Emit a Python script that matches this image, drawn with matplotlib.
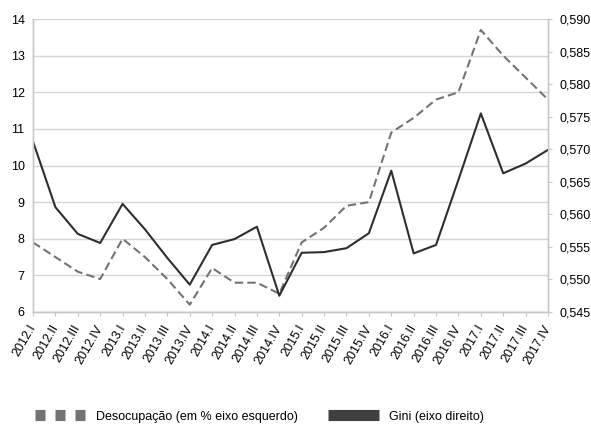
import numpy as np
import matplotlib
matplotlib.use("Agg")
import matplotlib.pyplot as plt
from matplotlib.lines import Line2D
from matplotlib.ticker import FuncFormatter, MultipleLocator
from matplotlib.transforms import ScaledTranslation

plt.rcParams["font.family"] = ["Liberation Sans", "DejaVu Sans"]

# ── Data ─────────────────────────────────────────────────────────────────────
quarters = [
    "2012.I", "2012.II", "2012.III", "2012.IV",
    "2013.I", "2013.II", "2013.III", "2013.IV",
    "2014.I", "2014.II", "2014.III", "2014.IV",
    "2015.I", "2015.II", "2015.III", "2015.IV",
    "2016.I", "2016.II", "2016.III", "2016.IV",
    "2017.I", "2017.II", "2017.III", "2017.IV",
]
desocupacao = [7.9, 7.5, 7.1, 6.9, 8.0, 7.5, 6.9, 6.2,
               7.2, 6.8, 6.8, 6.5, 7.9, 8.3, 8.9, 9.0,
               10.9, 11.3, 11.8, 12.0, 13.7, 13.0, 12.4, 11.8]
gini = [0.5712, 0.5611, 0.5570, 0.5556, 0.5616, 0.5577, 0.5533, 0.5492,
        0.5553, 0.5562, 0.5581, 0.5475, 0.5541, 0.5542, 0.5548, 0.5571,
        0.5667, 0.5540, 0.5553, 0.5653, 0.5755, 0.5663, 0.5678, 0.5699]

x = np.arange(len(quarters))
grey_dash = "#737373"
dark = "#2e2e2e"
axis_grey = "#c8c8c8"

# ── Figure ───────────────────────────────────────────────────────────────────
fig = plt.figure(figsize=(5.91, 4.24), dpi=100)
ax = fig.add_axes([33 / 591, 1 - 312 / 424, (548 - 33) / 591, (312 - 19) / 424])
ax2 = ax.twinx()

ax.plot(x, desocupacao, color=grey_dash, linewidth=1.5, dashes=(4, 2))
ax2.plot(x, gini, color=dark, linewidth=1.5)

ax.set_xlim(0, len(quarters) - 1)
ax.set_ylim(6, 14)
ax2.set_ylim(0.545, 0.590)
ax.yaxis.set_major_locator(MultipleLocator(1))
ax2.yaxis.set_major_locator(MultipleLocator(0.005))
ax2.yaxis.set_major_formatter(FuncFormatter(lambda v, p: f"{v:.3f}".replace(".", ",")))

ax.grid(axis="y", color="#d4d4d4", linewidth=1)
ax.set_axisbelow(True)

ax.set_xticks(x)
ax.set_xticklabels(quarters, rotation=60, ha="right", va="center",
                   rotation_mode="anchor")
# nudge labels a little to the right, as in the original
shift = ScaledTranslation(4 / 72, 0, fig.dpi_scale_trans)
for lab in ax.get_xticklabels():
    lab.set_transform(lab.get_transform() + shift)

for a in (ax, ax2):
    a.spines["top"].set_visible(False)
    for s in ("left", "right", "bottom"):
        a.spines[s].set_color(axis_grey)
        a.spines[s].set_linewidth(1)
ax.tick_params(axis="x", length=3, color=axis_grey, labelsize=9, pad=7)
ax.tick_params(axis="y", length=0, labelsize=9, pad=6)
ax2.tick_params(axis="y", length=3, color=axis_grey, labelsize=9, pad=5)

# ── Legend ───────────────────────────────────────────────────────────────────
handles = [
    Line2D([], [], color=grey_dash, linewidth=8, dashes=(0.9, 0.9),
           dash_capstyle="butt"),
    Line2D([], [], color="#404040", linewidth=8, solid_capstyle="butt"),
]
labels = ["Desocupação (em % eixo esquerdo)", "Gini (eixo direito)"]
fig.legend(handles, labels, loc="center left", bbox_to_anchor=(30 / 591, 0.017),
           ncol=2, frameon=False, fontsize=9, handlelength=4.1,
           handletextpad=0.8, columnspacing=2.4, borderaxespad=0)

fig.savefig("out.png", dpi=100)
